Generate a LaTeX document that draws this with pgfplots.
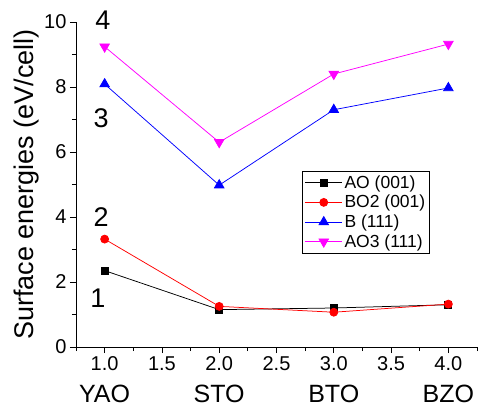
\documentclass[border=0pt]{standalone}
\usepackage{fontspec}
\setmainfont{Liberation Sans}
\usepackage{pgfplots}
\pgfplotsset{compat=1.18}
\usetikzlibrary{calc}
\definecolor{mag}{RGB}{255,0,255}
\definecolor{rd}{RGB}{255,0,0}
\definecolor{bl}{RGB}{0,0,255}
\begin{document}
\begin{tikzpicture}
\begin{axis}[
  scale only axis, width=401bp, height=325bp,
  xmin=0.75, xmax=4.25, ymin=0, ymax=10,
  axis x line*=bottom, axis y line*=left,
  axis line style={line width=0.8bp},
  tick align=outside,
  tick style={line width=0.8bp, black},
  major tick length=6bp, minor tick length=4bp,
  xtick={1,1.5,2,2.5,3,3.5,4},
  xticklabels={1.0,1.5,2.0,2.5,3.0,3.5,4.0},
  minor xtick={0.75,1.25,1.75,2.25,2.75,3.25,3.75,4.25},
  ytick={0,2,4,6,8,10},
  minor ytick={1,3,5,7,9},
  ticklabel style={font=\fontsize{20bp}{24bp}\selectfont},
  /pgf/number format/assume math mode=true,
  ylabel={Surface energies (eV/cell)},
  ylabel style={font=\fontsize{27bp}{32bp}\selectfont, yshift=-2bp},
  clip=false,
  legend style={at={(0.564,0.542)}, anchor=north west, draw=black, line width=0.6bp,
    font=\fontsize{17.5bp}{21bp}\selectfont, row sep=1.5bp, inner sep=2.5bp},
  legend cell align=left,
  legend image code/.code={\draw[mark repeat=2,mark phase=2,#1] plot coordinates {(0cm,0cm) (0.65cm,0cm) (1.3cm,0cm)};},
]
\addplot[black, line width=0.75bp, mark=square*, mark size=3.5bp, mark options={solid}] coordinates {(1,2.35) (2,1.15) (3,1.2) (4,1.3)};
\addlegendentry{AO (001)}
\addplot[rd, line width=0.75bp, mark=*, mark size=4bp] coordinates {(1,3.32) (2,1.25) (3,1.07) (4,1.32)};
\addlegendentry{BO2 (001)}
\addplot[bl, line width=0.75bp, mark=triangle*, mark size=5.5bp] coordinates {(1,8.09) (2,4.98) (3,7.3) (4,7.97)};
\addlegendentry{B (111)}
\addplot[mag, line width=0.75bp, mark=triangle*, mark size=5.5bp, mark options={rotate=180}] coordinates {(1,9.24) (2,6.3) (3,8.4) (4,9.32)};
\addlegendentry{AO3 (111)}
\node[font=\fontsize{27bp}{32bp}\selectfont] at (axis cs:0.985,10.06) {4};
\node[font=\fontsize{27bp}{32bp}\selectfont] at (axis cs:0.97,7.04) {3};
\node[font=\fontsize{27bp}{32bp}\selectfont] at (axis cs:0.97,4.0) {2};
\node[font=\fontsize{27bp}{32bp}\selectfont] at (axis cs:0.94,1.5) {1};
\node[font=\fontsize{25bp}{30bp}\selectfont, anchor=base] at (axis cs:1,0) [yshift=-55bp] {YAO};
\node[font=\fontsize{25bp}{30bp}\selectfont, anchor=base] at (axis cs:2,0) [yshift=-55bp] {STO};
\node[font=\fontsize{25bp}{30bp}\selectfont, anchor=base] at (axis cs:3,0) [yshift=-55bp] {BTO};
\node[font=\fontsize{25bp}{30bp}\selectfont, anchor=base] at (axis cs:4,0) [yshift=-55bp] {BZO};
\end{axis}
\pgfresetboundingbox
\path ($(current axis.south west)+(-76bp,-61bp)$) rectangle ($(current axis.north east)+(4bp,22bp)$);
\end{tikzpicture}
\end{document}
